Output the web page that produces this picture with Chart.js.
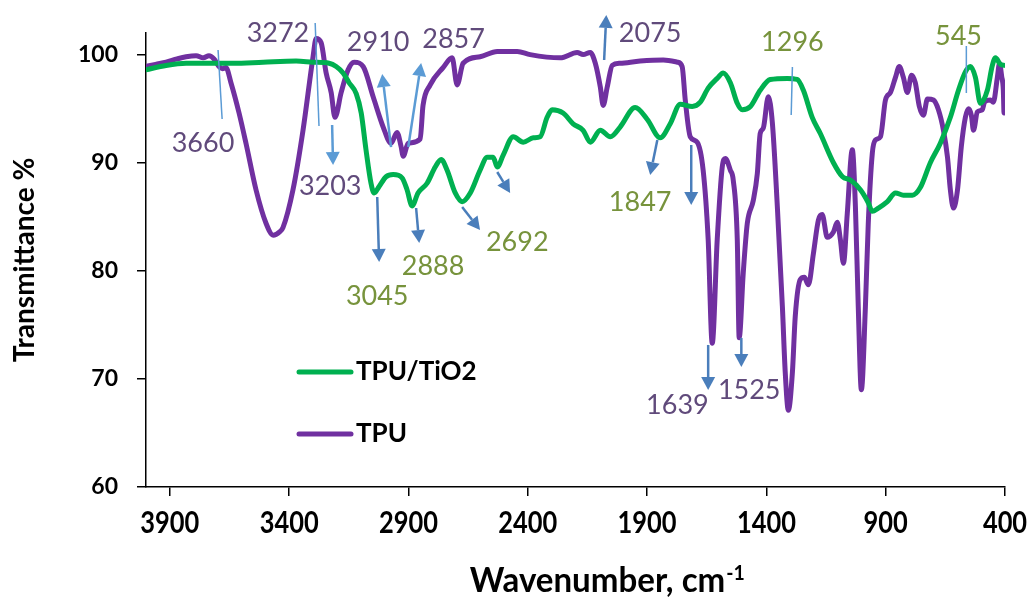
<!DOCTYPE html>
<html>
<head>
<meta charset="utf-8">
<script src="https://cdn.jsdelivr.net/npm/chart.js@4.4.1/dist/chart.umd.min.js"></script>
<style>
  html, body { margin: 0; padding: 0; background: #fff; }
  #wrap { position: relative; width: 1028px; height: 598px; }
</style>
</head>
<body>
<div id="wrap"><canvas id="ftir" width="1028" height="598"></canvas></div>
<script>
// FTIR spectra: wavenumber (cm-1) and transmittance (%)
const tpuWavenumber = [4000, 3960, 3916, 3870, 3832, 3790, 3760, 3736, 3715, 3694, 3680, 3665, 3644, 3610, 3581, 3539, 3497, 3467, 3440, 3426, 3384, 3342, 3300, 3287, 3266, 3245, 3224, 3208, 3182, 3153, 3128, 3090, 3048, 3006, 2973, 2948, 2931, 2922, 2901, 2851, 2839, 2809, 2755, 2717, 2696, 2671, 2600, 2528, 2444, 2390, 2264, 2193, 2168, 2138, 2117, 2096, 2084, 2067, 2046, 2013, 1929, 1832, 1773, 1753, 1740, 1719, 1690, 1665, 1644, 1627, 1606, 1585, 1572, 1551, 1539, 1522, 1514, 1497, 1480, 1455, 1438, 1426, 1413, 1392, 1375, 1354, 1333, 1321, 1308, 1291, 1279, 1258, 1241, 1224, 1203, 1182, 1166, 1145, 1119, 1103, 1090, 1077, 1061, 1040, 1027, 1015, 1002, 985, 973, 956, 943, 922, 901, 880, 859, 843, 826, 809, 792, 776, 759, 742, 725, 700, 679, 658, 641, 629, 616, 599, 583, 566, 553, 541, 532, 516, 495, 486, 461, 449, 432, 423, 414, 407, 404, 400];
const tpuTransmittance = [98.9, 99.1, 99.3, 99.6, 99.8, 99.9, 99.7, 99.9, 99.6, 98.9, 98.7, 98.8, 97.4, 94.6, 91.8, 87.5, 84.4, 83.3, 83.6, 84.0, 87.5, 93.0, 99.8, 101.5, 101.1, 98.3, 96.5, 94.2, 96.5, 98.6, 99.3, 98.9, 96.1, 93.3, 91.8, 92.8, 91.5, 90.6, 91.8, 92.2, 95.3, 97.2, 98.8, 99.7, 97.2, 99.2, 99.8, 100.3, 100.3, 100.0, 99.7, 100.2, 100.0, 100.2, 99.2, 97.0, 95.3, 97.0, 99.0, 99.2, 99.4, 99.5, 99.3, 98.9, 95.8, 92.4, 91.9, 89.3, 82.9, 73.3, 82.9, 89.6, 90.4, 89.3, 88.4, 82.9, 73.8, 79.8, 84.4, 86.5, 89.0, 92.7, 93.2, 96.1, 93.7, 85.9, 76.7, 70.6, 67.1, 70.6, 75.8, 79.2, 79.4, 78.7, 81.6, 84.7, 85.2, 83.1, 83.6, 84.5, 82.9, 80.7, 85.3, 91.2, 86.0, 76.7, 69.0, 76.7, 84.4, 90.9, 92.1, 92.4, 95.8, 96.5, 97.9, 98.9, 97.9, 96.5, 98.1, 97.4, 95.2, 94.4, 95.9, 95.8, 94.9, 93.0, 90.5, 87.5, 85.8, 87.5, 91.5, 94.2, 95.0, 94.4, 93.0, 94.7, 94.9, 95.6, 95.8, 95.6, 97.9, 99.2, 98.0, 96.7, 94.6, 95.8];

const tpuTio2Wavenumber = [4000, 3916, 3832, 3719, 3635, 3509, 3371, 3300, 3233, 3203, 3174, 3149, 3119, 3098, 3078, 3057, 3044, 3023, 2994, 2964, 2927, 2906, 2885, 2860, 2822, 2788, 2763, 2738, 2704, 2675, 2641, 2600, 2570, 2545, 2528, 2503, 2461, 2419, 2377, 2348, 2319, 2298, 2252, 2210, 2168, 2138, 2096, 2054, 2013, 1950, 1899, 1845, 1803, 1761, 1711, 1677, 1644, 1606, 1581, 1551, 1522, 1501, 1467, 1426, 1384, 1312, 1271, 1245, 1208, 1174, 1119, 1081, 1048, 1006, 973, 956, 931, 893, 859, 826, 788, 755, 713, 671, 629, 595, 566, 545, 524, 503, 474, 453, 440, 419, 400];
const tpuTio2Transmittance = [98.6, 99.0, 99.2, 99.2, 99.2, 99.3, 99.4, 99.3, 99.2, 98.9, 98.3, 97.4, 96.4, 94.6, 91.2, 88.1, 87.2, 87.8, 88.7, 88.9, 88.6, 87.5, 86.0, 87.2, 88.1, 89.6, 90.3, 89.3, 87.2, 86.4, 87.2, 89.3, 90.5, 90.5, 89.6, 90.7, 92.4, 91.9, 92.3, 92.4, 94.2, 94.9, 94.6, 93.6, 93.0, 91.9, 93.0, 92.4, 93.3, 95.1, 94.0, 92.3, 93.6, 95.4, 95.2, 95.6, 96.9, 97.8, 98.3, 97.4, 95.5, 94.9, 95.2, 96.7, 97.7, 97.8, 97.7, 96.7, 94.2, 92.7, 90.0, 88.7, 88.4, 87.5, 86.3, 85.5, 85.8, 86.4, 87.2, 87.0, 87.0, 87.7, 90.0, 91.8, 94.2, 96.7, 98.4, 98.9, 97.9, 95.5, 96.7, 99.0, 99.7, 99.1, 99.0];

const seriesNames = ['TPU/TiO2', 'TPU'];
const seriesColors = ['#00B050', '#7030A0'];

const xTickValues = [3900, 3400, 2900, 2400, 1900, 1400, 900, 400];
const yTickValues = [60, 70, 80, 90, 100];
const xAxisTitle = 'Wavenumber, cm';
const xAxisTitleSup = '-1';
const yAxisTitle = 'Transmittance %';

// Band assignments written on the spectra (series index: 0 = TPU/TiO2, 1 = TPU)
const peakLabels = ['3660', '3272', '3203', '2910', '2857', '2075', '1639', '1525', '3045', '2888', '2692', '1847', '1296', '545'];
const peakLabelSeries = [1, 1, 1, 1, 1, 1, 1, 1, 0, 0, 0, 0, 0, 0];

// Label centres in data units [wavenumber, transmittance]
const peakLabelAnchors = [
  [3761, 91.8], [3447, 102.0], [3228, 87.85], [3027, 101.1], [2711, 101.4], [1887, 102.0],
  [1773, 67.6], [1472, 68.9], [3031, 77.6], [2797, 80.4], [2444, 82.6], [1929, 86.3],
  [1291, 101.1], [595, 101.7]
];

// Pointer marks in data units: tail -> tip; arrow = draw a head at the tip
const pointers = [
  { from: [3698, 100.43], to: [3681, 94.04], arrow: false, tone: 'light' },
  { from: [3291, 102.93], to: [3275, 93.40], arrow: false, tone: 'light' },
  { from: [1291, 98.85],  to: [1296, 94.41], arrow: false, tone: 'light' },
  { from: [562, 100.80],  to: [562, 96.45],  arrow: false, tone: 'light' },
  { from: [3220, 93.49],  to: [3216, 89.79], arrow: true,  tone: 'light' },
  { from: [2973, 91.45],  to: [3010, 98.21], arrow: true,  tone: 'light' },
  { from: [2901, 91.45],  to: [2847, 99.22], arrow: true,  tone: 'light' },
  { from: [3031, 86.83],  to: [3023, 80.82], arrow: true,  tone: 'dark' },
  { from: [2868, 85.81],  to: [2855, 82.57], arrow: true,  tone: 'dark' },
  { from: [2675, 85.90],  to: [2600, 83.78], arrow: true,  tone: 'dark' },
  { from: [2528, 89.14],  to: [2474, 87.20], arrow: true,  tone: 'dark' },
  { from: [1857, 92.10],  to: [1887, 88.86], arrow: true,  tone: 'dark' },
  { from: [1715, 91.64],  to: [1715, 86.09], arrow: true,  tone: 'dark' },
  { from: [2080, 99.50],  to: [2071, 103.67], arrow: true, tone: 'dark' },
  { from: [1644, 73.14],  to: [1644, 68.97], arrow: true,  tone: 'dark' },
  { from: [1505, 73.79],  to: [1505, 71.10], arrow: true,  tone: 'dark' }
];

const labelColors = ['#77933C', '#604A7B'];
const pointerColors = { light: '#5B9BD5', dark: '#4A7EBB' };

function toPoints(xs, ys) {
  return xs.map((x, i) => ({ x: x, y: ys[i] }));
}

// Draws text squeezed horizontally by factor sx, anchored at (x, y)
function squeezedText(ctx, text, x, y, sx) {
  ctx.save();
  ctx.translate(x, y);
  ctx.scale(sx, 1);
  ctx.fillText(text, 0, 0);
  ctx.restore();
}

// Callout labels, pointer lines and arrows
const calloutPlugin = {
  id: 'callouts',
  afterDraw(chart) {
    const ctx = chart.ctx;
    const xs = chart.scales.x, ys = chart.scales.y;
    ctx.save();
    ctx.lineCap = 'butt';
    pointers.forEach(p => {
      const x1 = xs.getPixelForValue(p.from[0]), y1 = ys.getPixelForValue(p.from[1]);
      const x2 = xs.getPixelForValue(p.to[0]), y2 = ys.getPixelForValue(p.to[1]);
      const color = pointerColors[p.tone];
      ctx.strokeStyle = color;
      ctx.fillStyle = color;
      if (!p.arrow) {
        ctx.lineWidth = 1.5;
        ctx.beginPath();
        ctx.moveTo(x1, y1);
        ctx.lineTo(x2, y2);
        ctx.stroke();
        return;
      }
      const ang = Math.atan2(y2 - y1, x2 - x1);
      const headLen = 13, headHalf = 7;
      const bx = x2 - headLen * Math.cos(ang), by = y2 - headLen * Math.sin(ang);
      ctx.lineWidth = 2.5;
      ctx.beginPath();
      ctx.moveTo(x1, y1);
      ctx.lineTo(bx, by);
      ctx.stroke();
      ctx.beginPath();
      ctx.moveTo(x2, y2);
      ctx.lineTo(bx + headHalf * Math.sin(ang), by - headHalf * Math.cos(ang));
      ctx.lineTo(bx - headHalf * Math.sin(ang), by + headHalf * Math.cos(ang));
      ctx.closePath();
      ctx.fill();
    });
    ctx.font = "27px Lato, 'Open Sans', sans-serif";
    ctx.textAlign = 'center';
    ctx.textBaseline = 'middle';
    peakLabels.forEach((t, i) => {
      const a = peakLabelAnchors[i];
      ctx.fillStyle = labelColors[peakLabelSeries[i]];
      ctx.fillText(t, xs.getPixelForValue(a[0]), ys.getPixelForValue(a[1]));
    });
    ctx.restore();
  }
};

// Legend inside the plot area, x tick labels and the x-axis title with superscript
const legendAndAxisTextPlugin = {
  id: 'legendAndAxisText',
  afterDraw(chart) {
    const ctx = chart.ctx;
    const area = chart.chartArea;
    const xs = chart.scales.x;
    ctx.save();

    // legend
    const lx = area.left + 153, rowY = [372, 434];
    chart.data.datasets.forEach((ds, i) => {
      ctx.strokeStyle = ds.borderColor;
      ctx.lineWidth = 5;
      ctx.lineCap = 'round';
      ctx.beginPath();
      ctx.moveTo(lx, rowY[i]);
      ctx.lineTo(lx + 52, rowY[i]);
      ctx.stroke();
      ctx.fillStyle = '#000';
      ctx.font = 'bold 26px Lato, sans-serif';
      ctx.textAlign = 'left';
      ctx.textBaseline = 'middle';
      ctx.fillText(ds.label, lx + 57, rowY[i]);
    });

    // x tick labels
    ctx.fillStyle = '#000';
    ctx.font = 'bold 31px Lato, sans-serif';
    ctx.textAlign = 'center';
    ctx.textBaseline = 'middle';
    xTickValues.forEach(v => {
      squeezedText(ctx, String(v), xs.getPixelForValue(v), xs.top + 36, 0.82);
    });

    // x-axis title
    ctx.textBaseline = 'alphabetic';
    ctx.textAlign = 'left';
    ctx.font = 'bold 34px Lato, sans-serif';
    const wMain = ctx.measureText(xAxisTitle).width;
    ctx.font = 'bold 20px Lato, sans-serif';
    const wSup = ctx.measureText(xAxisTitleSup).width;
    const sx = 275 / (wMain + wSup + 1);
    const startX = area.left + (area.right - area.left) * 0.537 - 137.5;
    const baseY = 592;
    ctx.font = 'bold 34px Lato, sans-serif';
    squeezedText(ctx, xAxisTitle, startX, baseY, sx);
    ctx.font = 'bold 20px Lato, sans-serif';
    squeezedText(ctx, xAxisTitleSup, startX + (wMain + 1) * sx, baseY - 12, sx);
    ctx.restore();
  }
};

const ctx = document.getElementById('ftir').getContext('2d');
new Chart(ctx, {
  type: 'line',
  data: {
    datasets: [
      {
        label: seriesNames[0],
        data: toPoints(tpuTio2Wavenumber, tpuTio2Transmittance),
        borderColor: seriesColors[0],
        borderWidth: 5,
        pointRadius: 0,
        cubicInterpolationMode: 'monotone',
        borderJoinStyle: 'round',
        borderCapStyle: 'round',
        fill: false
      },
      {
        label: seriesNames[1],
        data: toPoints(tpuWavenumber, tpuTransmittance),
        borderColor: seriesColors[1],
        borderWidth: 5,
        pointRadius: 0,
        cubicInterpolationMode: 'monotone',
        borderJoinStyle: 'round',
        borderCapStyle: 'round',
        fill: false
      }
    ]
  },
  options: {
    responsive: false,
    animation: false,
    devicePixelRatio: 1,
    layout: { padding: { top: 33, right: 23, left: 0, bottom: 0 } },
    plugins: {
      legend: { display: false },
      tooltip: { enabled: false }
    },
    scales: {
      x: {
        type: 'linear',
        reverse: true,
        min: 400,
        max: 4000,
        afterBuildTicks: s => { s.ticks = xTickValues.slice().sort((a, b) => a - b).map(v => ({ value: v })); },
        afterFit: s => { s.height = 111; s.paddingLeft = 0; s.paddingRight = 0; },
        grid: { drawOnChartArea: false, drawTicks: true, tickLength: 9, color: '#000', lineWidth: 1.5 },
        border: { display: true, color: '#000', width: 1.5 },
        ticks: { display: false }
      },
      y: {
        min: 60,
        max: 102,
        afterBuildTicks: s => { s.ticks = yTickValues.map(v => ({ value: v })); },
        afterFit: s => { s.width = 146; s.paddingTop = 0; s.paddingBottom = 0; },
        grid: { drawOnChartArea: false, drawTicks: true, tickLength: 9, color: '#000', lineWidth: 1.5 },
        border: { display: true, color: '#000', width: 1.5 },
        ticks: {
          padding: 19, color: '#000',
          callback: v => String(v),
          font: { family: 'Lato, sans-serif', weight: 'bold', size: 23 }
        },
        title: {
          display: true, text: yAxisTitle, color: '#000',
          font: { family: 'Lato, sans-serif', weight: 'bold', size: 28 },
          padding: { top: 8, bottom: 0 }
        }
      }
    }
  },
  plugins: [calloutPlugin, legendAndAxisTextPlugin]
});
</script>
</body>
</html>
